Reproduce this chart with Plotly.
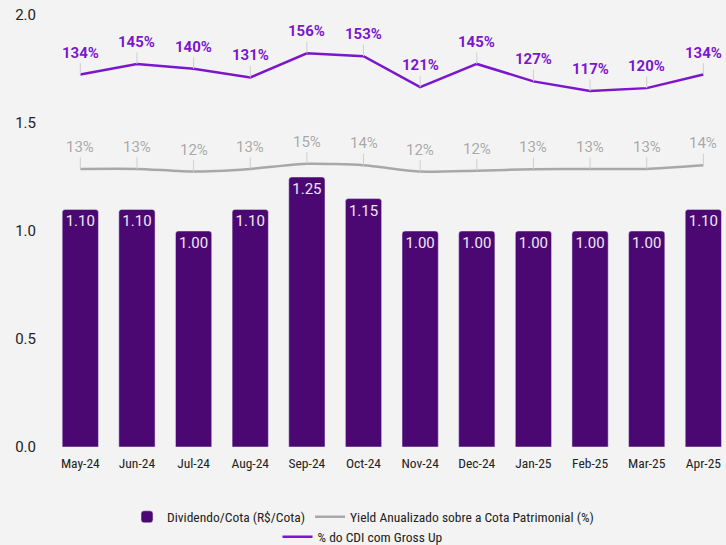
import plotly.graph_objects as go

# ── Dados ────────────────────────────────────────────────────────────────────
MESES = ["May-24", "Jun-24", "Jul-24", "Aug-24", "Sep-24", "Oct-24",
         "Nov-24", "Dec-24", "Jan-25", "Feb-25", "Mar-25", "Apr-25"]
DIVIDENDO = [1.10, 1.10, 1.00, 1.10, 1.25, 1.15, 1.00, 1.00, 1.00, 1.00, 1.00, 1.10]
YIELD_PCT = [13.0, 13.0, 12.1, 13.0, 14.7, 14.2, 12.1, 12.4, 12.9, 13.0, 13.0, 14.2]
CDI_PCT = [134, 145, 140, 131, 156, 153, 121, 145, 127, 117, 120, 134]

ROXO_BARRA = "#4C0872"
ROXO_LINHA = "#7B16CC"
CINZA = "#A8A8A8"
FUNDO = "#F3F3F3"
CONDENSADA = "Roboto Condensed"

fig = go.Figure()

fig.add_trace(go.Bar(
    x=MESES, y=DIVIDENDO,
    name="Dividendo/Cota (R$/Cota)",
    marker=dict(color=ROXO_BARRA, cornerradius=3),
    text=[f"{v:.2f}" for v in DIVIDENDO],
    textposition="inside", insidetextanchor="end",
    textfont=dict(family="Roboto", size=15, color="#EEE8F4"),
    legend="legend",
))
fig.add_trace(go.Scatter(
    x=MESES, y=YIELD_PCT, yaxis="y3",
    mode="lines", name="Yield Anualizado sobre a Cota Patrimonial (%)",
    line=dict(color=CINZA, width=2.5, shape="spline", smoothing=0.6),
    legend="legend",
))
fig.add_trace(go.Scatter(
    x=MESES, y=CDI_PCT, yaxis="y2",
    mode="lines", name="% do CDI com Gross Up",
    line=dict(color=ROXO_LINHA, width=2.5),
    legend="legend2",
))

# ── Rótulos com linha guia ───────────────────────────────────────────────────
anotacoes = []
for m, v in zip(MESES, CDI_PCT):
    anotacoes.append(dict(
        x=m, y=v, xref="x", yref="y2", text=f"<b>{v}%</b>",
        showarrow=True, ax=0, ay=-22, arrowhead=0, arrowwidth=1,
        arrowcolor="#CFCFCF",
        font=dict(family="Roboto", size=15, color=ROXO_LINHA, shadow="0px 0px 2px white"),
    ))
for m, v in zip(MESES, YIELD_PCT):
    anotacoes.append(dict(
        x=m, y=v, xref="x", yref="y3", text=f"{v:.0f}%",
        showarrow=True, ax=0, ay=-22, arrowhead=0, arrowwidth=1,
        arrowcolor="#CFCFCF",
        font=dict(family="Roboto", size=15, color=CINZA, shadow="0px 0px 2px white"),
    ))

fig.update_layout(
    width=726, height=545,
    margin=dict(l=52, r=0, t=15, b=98),
    paper_bgcolor=FUNDO, plot_bgcolor=FUNDO,
    font=dict(family="Roboto", size=15, color="#222222"),
    bargap=0.36,
    showlegend=True,
    annotations=anotacoes,
    xaxis=dict(
        range=[-0.5, 11.4], showgrid=False, zeroline=False, showline=False,
        ticks="", automargin=False, ticklabelstandoff=6,
        tickfont=dict(family=CONDENSADA, size=13.5, color="#222222"),
    ),
    yaxis=dict(
        range=[0, 2.0], tickvals=[0, 0.5, 1.0, 1.5, 2.0], tickformat=".1f",
        showgrid=False, zeroline=False, showline=False, ticks="",
        automargin=False, ticklabelstandoff=15,
        tickfont=dict(family="Roboto", size=15, color="#222222"),
    ),
    yaxis2=dict(range=[-251, 195.6], overlaying="y", visible=False),
    yaxis3=dict(range=[-79.7, 64.3], overlaying="y", visible=False),
    legend=dict(
        orientation="h", x=0.5, xanchor="center", xref="container",
        y=28 / 545, yanchor="middle", yref="container",
        font=dict(family=CONDENSADA, size=13.5, color="#222222"),
        bgcolor="rgba(0,0,0,0)", itemwidth=30,
    ),
    legend2=dict(
        orientation="h", x=0.5, xanchor="center", xref="container",
        y=8 / 545, yanchor="middle", yref="container",
        font=dict(family=CONDENSADA, size=13.5, color="#222222"),
        bgcolor="rgba(0,0,0,0)", itemwidth=30,
    ),
)

fig.write_html(
    "out.html",
    config={"displayModeBar": False},
    post_script="document.body.style.margin='0';",
)
